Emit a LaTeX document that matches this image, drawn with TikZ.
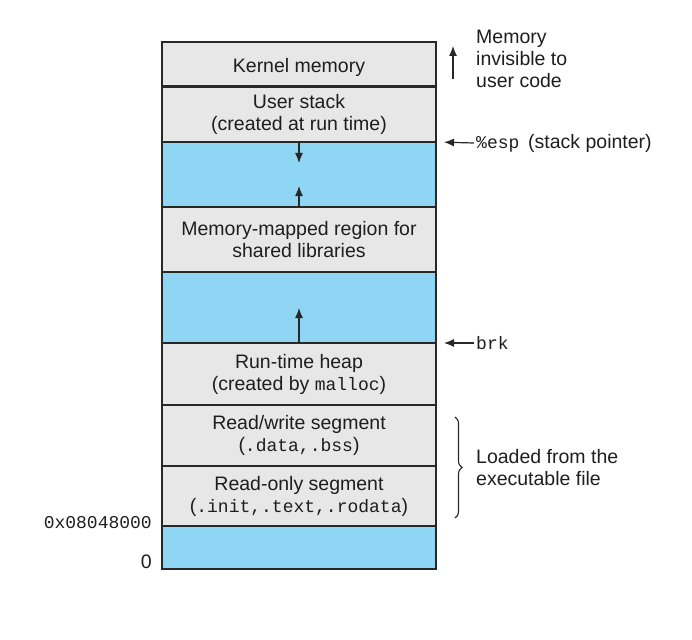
\documentclass[tikz,border=0pt]{standalone}
\usepackage{fontspec}
\setmainfont{Liberation Sans}
\setmonofont{Liberation Mono}
\usepackage{tikz}
\usetikzlibrary{arrows.meta,positioning,decorations.pathreplacing}
\definecolor{segfill}{RGB}{231,231,232}
\definecolor{gapfill}{RGB}{143,214,244}
\definecolor{edgegray}{RGB}{40,40,40}
\definecolor{inkgray}{RGB}{30,30,30}
\newcommand{\code}[1]{{\ttfamily\fontsize{18}{22}\selectfont #1}}

\begin{document}
\begin{tikzpicture}[x=1pt, y=-1pt,
  every node/.style={font=\fontsize{19.5}{22}\selectfont, text=inkgray},
  seg/.style={rectangle, draw=edgegray, fill=segfill, line width=1.4pt,
              minimum width=274pt, inner sep=0pt, outer sep=0pt,
              align=center, execute at begin node={\rule{0pt}{20pt}}},
  gap/.style={seg, fill=gapfill},
  note/.style={anchor=west, align=left, inner sep=2pt},
  ptr/.style={-{Latex[length=10pt,width=8pt]}, line width=1.2pt,
              draw=edgegray},
]
\useasboundingbox (0,0) rectangle (692,639);

%% ── Address space segments ─────────────────────────────────────────────
\node[seg, minimum height=45pt] (kernel) at (299,64.5) {Kernel memory};
\node[seg, minimum height=55pt, below=0pt of kernel] (ustack)
  {User stack\\(created at run time)};
\node[gap, minimum height=65pt, below=0pt of ustack] (stackgap) {};
\node[seg, minimum height=65pt, below=0pt of stackgap] (mmap)
  {Memory-mapped region for\\shared libraries};
\node[gap, minimum height=71pt, below=0pt of mmap] (heapgap) {};
\node[seg, minimum height=62pt, below=0pt of heapgap] (heap)
  {Run-time heap\\(created by \code{malloc})};
\node[seg, minimum height=61pt, below=0pt of heap] (rwseg)
  {Read/write segment\\(\code{.data,.bss})};
\node[seg, minimum height=60pt, below=0pt of rwseg] (roseg)
  {Read-only segment\\(\code{.init,.text,.rodata})};
\node[gap, minimum height=43pt, below=0pt of roseg] (lowgap) {};

%% ── Kernel boundary ────────────────────────────────────────────────────
\draw[edgegray, line width=3pt] (kernel.south west) -- (kernel.south east);

%% ── Growth arrows ──────────────────────────────────────────────────────
\coordinate (stackhead) at ([yshift=-21pt]ustack.south);
\coordinate (mmaphead)  at ([yshift=21pt]mmap.north);
\coordinate (heaphead)  at ([yshift=35pt]heap.north);
\draw[ptr] (ustack.south) -- (stackhead);
\draw[ptr] (mmap.north) -- (mmaphead);
\draw[ptr] (heap.north) -- (heaphead);

%% ── Right-hand notes ───────────────────────────────────────────────────
\node[note] (invis) at (474,58.5) {Memory\\invisible to\\user code};
\coordinate (invtail) at (453,79);
\coordinate (invhead) at (453,46);
\draw[ptr] (invtail) -- (invhead);

\node[note] (esp) at (474,143) {\code{\%esp}\hspace{0.45em}(stack pointer)};
\draw[ptr, shorten >=8pt] (esp.west) -- (ustack.south east);

\node[note] (brk) at (474,343) {\code{brk}};
\draw[ptr, shorten >=8pt] (brk.west) -- (heap.north east);

\coordinate (bracetop) at (455,417);
\coordinate (bracebot) at (455,518);
\draw[edgegray, line width=1.1pt, decorate, decoration={brace, amplitude=7pt}]
  (bracetop) -- (bracebot);
\node[note] (loaded) at (474,468) {Loaded from the\\executable file};

%% ── Addresses ──────────────────────────────────────────────────────────
\node[anchor=east, inner sep=0pt] (addr) at (152,523) {\code{0x08048000}};
\node[anchor=east, inner sep=0pt] (zero) at (152,562) {0};

\end{tikzpicture}
\end{document}
